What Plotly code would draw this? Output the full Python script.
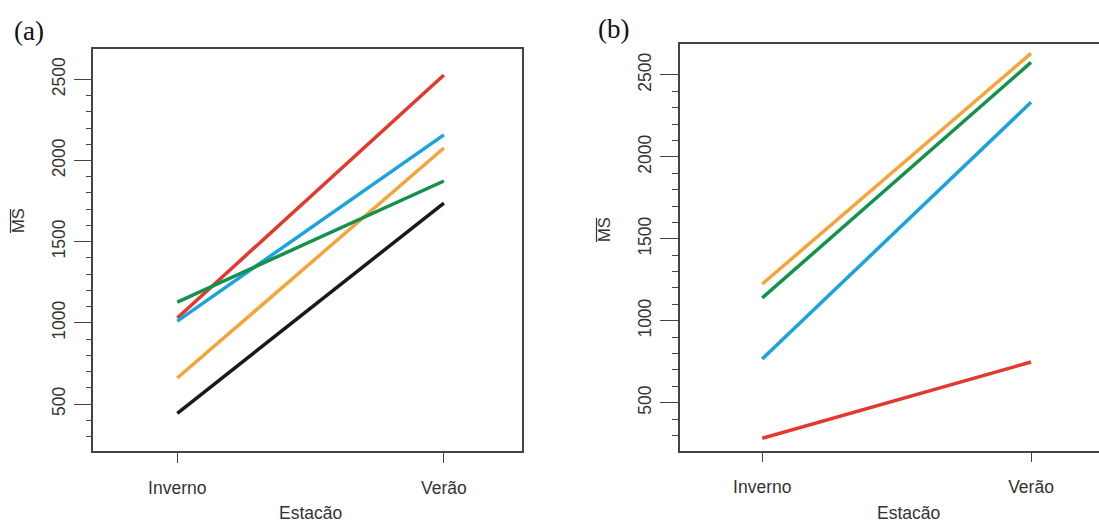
import plotly.graph_objects as go

W, H = 1099, 524

# ---- data ----
estacoes = ["Inverno", "Verão"]
x_pos = [1, 2]

# panel (a)
a_vermelho = [1030, 2527]
a_azul = [1011, 2158]
a_laranja = [660, 2077]
a_verde = [1128, 1874]
a_preto = [443, 1738]

# panel (b)
b_laranja = [1224, 2632]
b_verde = [1139, 2577]
b_azul = [767, 2333]
b_vermelho = [283, 748]

y_major = [500, 1000, 1500, 2000, 2500]
y_minor = [v for v in range(300, 2600, 100) if v not in y_major]

RED = "#E4382D"
BLUE = "#1DA3DB"
ORANGE = "#F5A43A"
GREEN = "#12924A"
BLACK = "#1A1A1A"


def px(x):
    return x / W


def py(y):
    return 1 - y / H


fig = go.Figure()

for vals, col in [(a_vermelho, RED), (a_azul, BLUE), (a_laranja, ORANGE),
                  (a_verde, GREEN), (a_preto, BLACK)]:
    fig.add_trace(go.Scatter(x=x_pos, y=vals, mode="lines",
                             line=dict(color=col, width=3.5),
                             xaxis="x", yaxis="y", showlegend=False))

for vals, col in [(b_laranja, ORANGE), (b_verde, GREEN), (b_azul, BLUE),
                  (b_vermelho, RED)]:
    fig.add_trace(go.Scatter(x=x_pos, y=vals, mode="lines",
                             line=dict(color=col, width=3.5),
                             xaxis="x2", yaxis="y2", showlegend=False))

AX = "#444444"
TXT = "#333333"
FONT = "Liberation Sans, Arial, sans-serif"

common_x = dict(tickmode="array", tickvals=x_pos, ticktext=estacoes,
                ticks="outside", ticklen=10, tickwidth=1.3, tickcolor=AX,
                showline=True, linecolor=AX, linewidth=1.5,
                showgrid=False, zeroline=False,
                tickfont=dict(family=FONT, size=17.5, color=TXT),
                ticklabelstandoff=10)
common_y = dict(tickmode="array", tickvals=y_major,
                ticktext=[str(v) for v in y_major],
                ticks="outside", ticklen=18, tickwidth=1.3, tickcolor=AX,
                showline=True, linecolor=AX, linewidth=1.5,
                showgrid=False, zeroline=False, tickangle=-90,
                tickfont=dict(family=FONT, size=17.5, color=TXT),
                ticklabelstandoff=2,
                minor=dict(tickmode="array", tickvals=y_minor, ticks="outside",
                           ticklen=6, tickwidth=1.3, tickcolor=AX,
                           showgrid=False))

fig.update_layout(
    width=W, height=H,
    margin=dict(l=0, r=0, t=0, b=0),
    paper_bgcolor="white", plot_bgcolor="white",
    xaxis=dict(domain=[px(93.3), px(522.3)], range=[0.685, 2.294],
               anchor="y", mirror=True, **common_x),
    yaxis=dict(domain=[py(451), py(49)], range=[210.5, 2687],
               anchor="x", mirror=True, **common_y),
    xaxis2=dict(domain=[px(680), 1.0], range=[0.694, 2.253],
                anchor="y2", mirror=True, **common_x),
    yaxis2=dict(domain=[py(450.7), py(44.3)], range=[207, 2687],
                anchor="x2", mirror=False, **common_y),
)

ann = []
# panel letters
ann.append(dict(text="(a)", x=px(12), y=py(31), xref="paper", yref="paper",
                xanchor="left", yanchor="middle", showarrow=False,
                font=dict(family="Liberation Serif, Times New Roman, serif",
                          size=27, color="#111111")))
ann.append(dict(text="(b)", x=px(596), y=py(29), xref="paper", yref="paper",
                xanchor="left", yanchor="middle", showarrow=False,
                font=dict(family="Liberation Serif, Times New Roman, serif",
                          size=27, color="#111111")))
# x titles
for cx in (310, 908):
    ann.append(dict(text="Estacão", x=px(cx), y=py(513), xref="paper",
                    yref="paper", xanchor="center", yanchor="middle",
                    showarrow=False,
                    font=dict(family=FONT, size=17.5, color=TXT)))
# y titles
for cx, cy in ((18, 221), (604, 230)):
    ann.append(dict(text="MS", x=px(cx), y=py(cy), xref="paper",
                    yref="paper", xanchor="center", yanchor="middle",
                    textangle=-90, showarrow=False,
                    font=dict(family=FONT, size=16.5, color=TXT)))
fig.update_layout(annotations=ann)

# overlines for the MS labels (bar notation)
shapes = []
for lx, cy in ((10.5, 221), (596.5, 230)):
    shapes.append(dict(type="line", xref="paper", yref="paper",
                       x0=px(lx), x1=px(lx), y0=py(cy - 12), y1=py(cy + 12),
                       line=dict(color=TXT, width=1.2)))
fig.update_layout(shapes=shapes)

fig.write_html("out.html",
               config={"displayModeBar": False},
               post_script="document.body.style.margin='0';"
                           "document.body.style.overflow='hidden';")
